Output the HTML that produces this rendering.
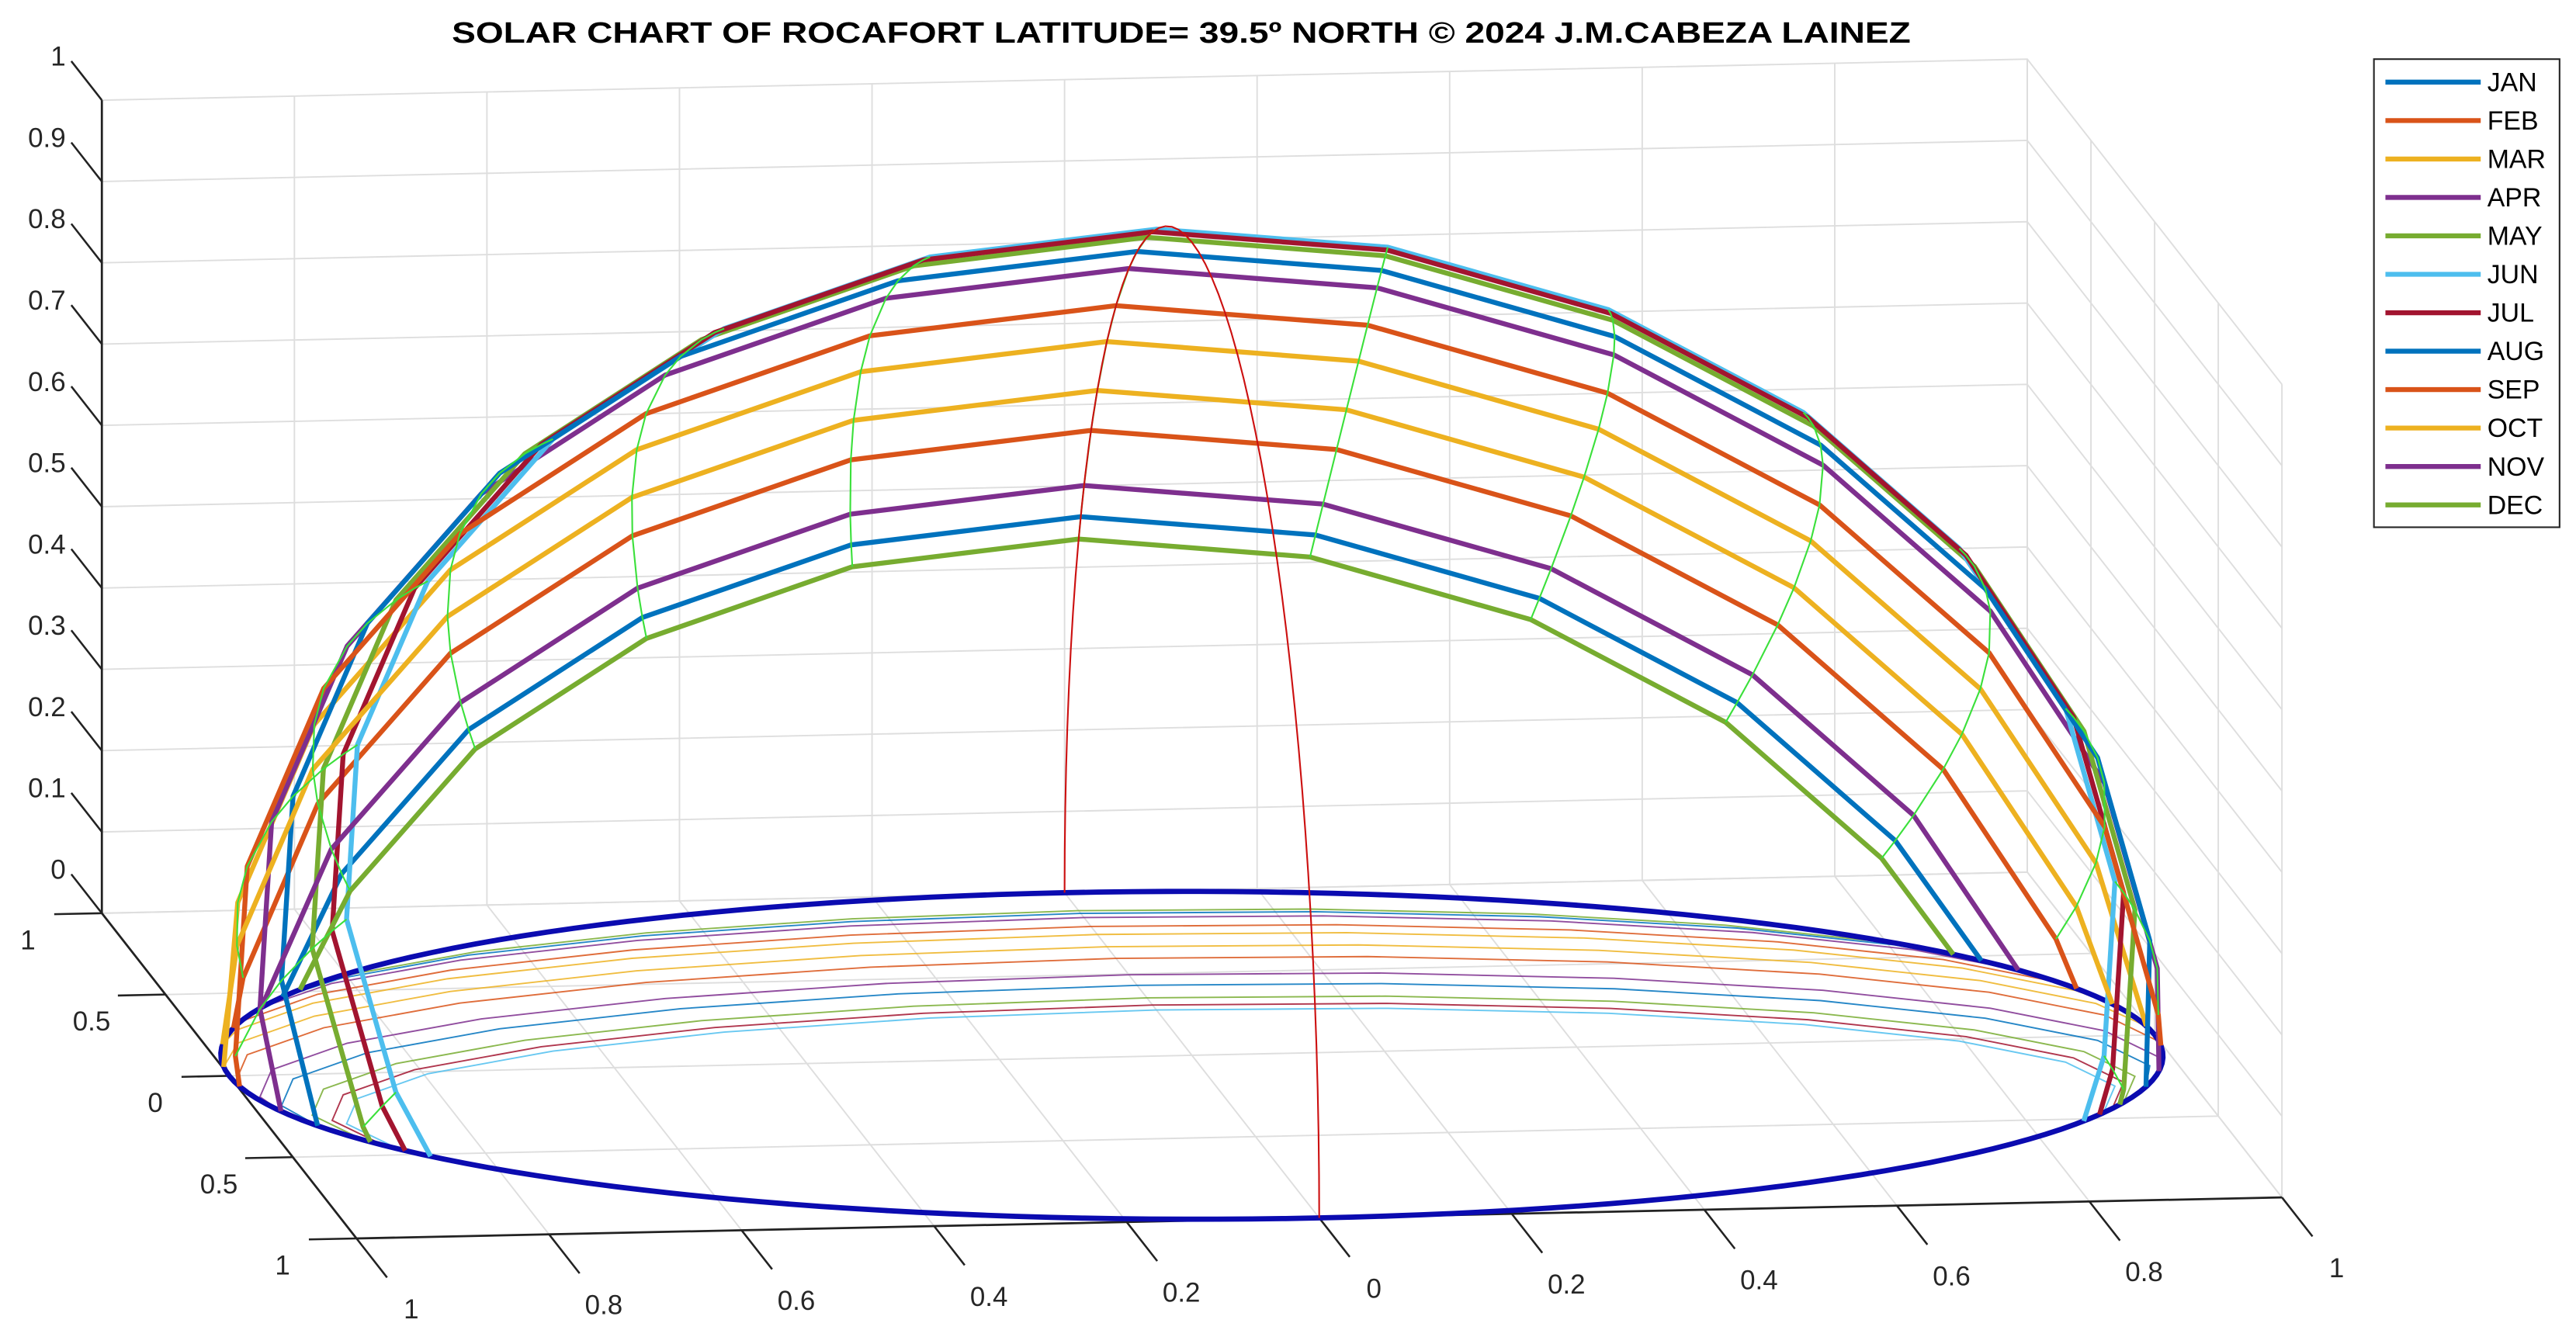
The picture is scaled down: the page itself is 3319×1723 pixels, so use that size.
<!DOCTYPE html>
<html><head><meta charset="utf-8"><style>
html,body{margin:0;padding:0;background:#fff;}
svg{display:block;font-family:"Liberation Sans",Arial,sans-serif;}
</style></head><body>
<svg id="chart" width="3319" height="1723" viewBox="0 0 1568 814" preserveAspectRatio="none" xmlns="http://www.w3.org/2000/svg">
<rect x="0" y="0" width="1568" height="814" fill="#fff"/>
<text x="719" y="26" text-anchor="middle" font-weight="bold" font-size="18" textLength="888" lengthAdjust="spacingAndGlyphs" fill="#000">SOLAR CHART OF ROCAFORT LATITUDE= 39.5º NORTH  © 2024 J.M.CABEZA LAINEZ</text>
<g id="grid"></g>
<g id="axes"></g>
<g id="ground"></g>
<g id="paths"></g>
<g id="hours"></g>
<g id="legend"></g>
</svg>
<script>
const months = ["JAN","FEB","MAR","APR","MAY","JUN","JUL","AUG","SEP","OCT","NOV","DEC"];
const declinations = [-21.3,-12.9,-2.4,9.8,18.8,23.3,21.5,14.0,2.9,-8.5,-18.4,-23.3];
const colors = ["#0072BD","#D95319","#EDB120","#7E2F8E","#77AC30","#4DBEEE","#A2142F","#0072BD","#D95319","#EDB120","#7E2F8E","#77AC30"];
const latitude = 39.5;
const zTicks = [0,0.1,0.2,0.3,0.4,0.5,0.6,0.7,0.8,0.9,1];
const zTickLabels = ["0","0.1","0.2","0.3","0.4","0.5","0.6","0.7","0.8","0.9","1"];
const xTicks = [-1,-0.8,-0.6,-0.4,-0.2,0,0.2,0.4,0.6,0.8,1];
const xTickLabels = ["1","0.8","0.6","0.4","0.2","0","0.2","0.4","0.6","0.8","1"];
const yTicks = [-1,-0.5,0,0.5,1];
const yTickLabels = ["1","0.5","0","0.5","1"];

const NS="http://www.w3.org/2000/svg";
const O=[725.5,642.5], EX=[586,-12.5], EYF=[77.5,99], EZ=[0,-495];
function P(X,Yf,Z){return [O[0]+X*EX[0]+Yf*EYF[0]+Z*EZ[0], O[1]+X*EX[1]+Yf*EYF[1]+Z*EZ[1]];}
function mk(tag,attrs,parent){const e=document.createElementNS(NS,tag);for(const k in attrs)e.setAttribute(k,attrs[k]);parent.appendChild(e);return e;}
function pts(a){return a.map(p=>p[0].toFixed(2)+","+p[1].toFixed(2)).join(" ");}
const grid=document.getElementById('grid'), axes=document.getElementById('axes');
const GC="#dedede";
zTicks.forEach(z=>{
  const l=mk('polyline',{points:pts([P(-1,-1,z),P(1,-1,z),P(1,1,z)]),fill:"none",stroke:GC,"stroke-width":0.9},grid);
  
  
});
xTicks.forEach(x=>{
  const l=mk('polyline',{points:pts([P(x,1,0),P(x,-1,0),P(x,-1,1)]),fill:"none",stroke:GC,"stroke-width":0.9},grid);
  
  
});
yTicks.forEach(y=>{
  const l=mk('polyline',{points:pts([P(-1,y,0),P(1,y,0),P(1,y,1)]),fill:"none",stroke:GC,"stroke-width":0.9},grid);
  
  
});
[[P(-1,-1,0),P(-1,-1,1)],[P(-1,-1,0),P(-1,1,0)],[P(-1,1,0),P(1,1,0)]].forEach((s,i)=>{
  const l=mk('polyline',{points:pts(s),fill:"none",stroke:"#222","stroke-width":1.3},axes);
  
  
});
zTicks.forEach((z,i)=>{
  const a=P(-1,-1,z), b=P(-1,-1.24,z);
  const t=mk('line',{x1:a[0],y1:a[1],x2:b[0],y2:b[1],stroke:"#222","stroke-width":1.2},axes);
  
  
  const tx=mk('text',{x:a[0]-22,y:a[1]-21,"text-anchor":"end","font-size":16.5,fill:"#262626"},axes);
  tx.textContent=zTickLabels[i];
  
  
});
yTicks.forEach((y,i)=>{
  const a=P(-1,y,0), b=[a[0]-29,a[1]+0.6];
  const t=mk('line',{x1:a[0],y1:a[1],x2:b[0],y2:b[1],stroke:"#222","stroke-width":1.2},axes);
  
  
  const tx=mk('text',{x:a[0]-45,y:a[1]+22,"text-anchor":"middle","font-size":16.5,fill:"#262626"},axes);
  tx.textContent=yTickLabels[i];
  
  
});
xTicks.forEach((x,i)=>{
  const a=P(x,1,0), b=P(x,1.24,0);
  const t=mk('line',{x1:a[0],y1:a[1],x2:b[0],y2:b[1],stroke:"#222","stroke-width":1.2},axes);
  
  
  const c=P(x,1.43,0);
  const tx=mk('text',{x:c[0],y:c[1]+6,"text-anchor":"middle","font-size":16.5,fill:"#262626"},axes);
  tx.textContent=xTickLabels[i];
  
  
});
const R=Math.PI/180, phi=latitude*R;
function sun(dec,H){const d=dec*R,h=H*R;
  const E=-Math.cos(d)*Math.sin(h);
  const N=Math.cos(phi)*Math.sin(d)-Math.sin(phi)*Math.cos(d)*Math.cos(h);
  const U=Math.sin(phi)*Math.sin(d)+Math.cos(phi)*Math.cos(d)*Math.cos(h);
  return {X:-E, Yf:N, U:U};}
function pathHA(dec){const H0=Math.acos(-Math.tan(phi)*Math.tan(dec*R))/R;const a=[-H0];
  for(let k=-12;k<=12;k++){const H=k*15;if(H>-H0+0.01&&H<H0-0.01)a.push(H);}a.push(H0);return a;}
const ground=document.getElementById('ground'), paths=document.getElementById('paths'), hours=document.getElementById('hours');
months.forEach((m,i)=>{
  const hs=pathHA(declinations[i]);
  const sp=hs.map(H=>sun(declinations[i],H));
  const g=mk('polyline',{points:pts(sp.map(s=>P(s.X,s.Yf,0))),fill:"none",stroke:colors[i],"stroke-width":0.9,"stroke-opacity":0.85},ground);
  
  
});
const circ=[];for(let t=0;t<=360;t+=2)circ.push(P(Math.cos(t*R),Math.sin(t*R),0));
const hc=mk('polyline',{points:pts(circ),fill:"none",stroke:"#0b0bb0","stroke-width":3.2},ground);


months.forEach((m,i)=>{
  const hs=pathHA(declinations[i]);
  const sp=hs.map(H=>sun(declinations[i],H));
  const l=mk('polyline',{points:pts(sp.map(s=>P(s.X,s.Yf,Math.max(0,s.U)))),fill:"none",stroke:colors[i],"stroke-width":3,"stroke-linejoin":"round"},paths);
  
  
});
const order=months.map((m,i)=>i).sort((a,b)=>declinations[a]-declinations[b]);
for(let k=-8;k<=8;k++){
  const H=k*15, a=[];
  order.forEach(i=>{const s=sun(declinations[i],H);if(s.U>0)a.push(P(s.X,s.Yf,s.U));});
  if(a.length>1){
    const l=mk('polyline',{points:pts(a),fill:"none",stroke:"#3be03b","stroke-width":1},hours);
    
    
  }
}
const mer=[];for(let t=0;t<=180;t+=3)mer.push(P(0,-Math.cos(t*R),Math.sin(t*R)));
const ml=mk('polyline',{points:pts(mer),fill:"none",stroke:"#cc1010","stroke-width":1},hours);


const lg=document.getElementById('legend');
const box=mk('rect',{x:1445,y:36,width:113,height:285,fill:"#fff",stroke:"#262626","stroke-width":1},lg);


months.forEach((m,i)=>{
  const y=50+i*23.4;
  const g=mk('g',{},lg);
  
  
  mk('line',{x1:1452,y1:y,x2:1510,y2:y,stroke:colors[i],"stroke-width":3},g);
  const t=mk('text',{x:1514,y:y+5.5,"font-size":16,fill:"#000"},g);
  t.textContent=m;
});
</script>
</body></html>
